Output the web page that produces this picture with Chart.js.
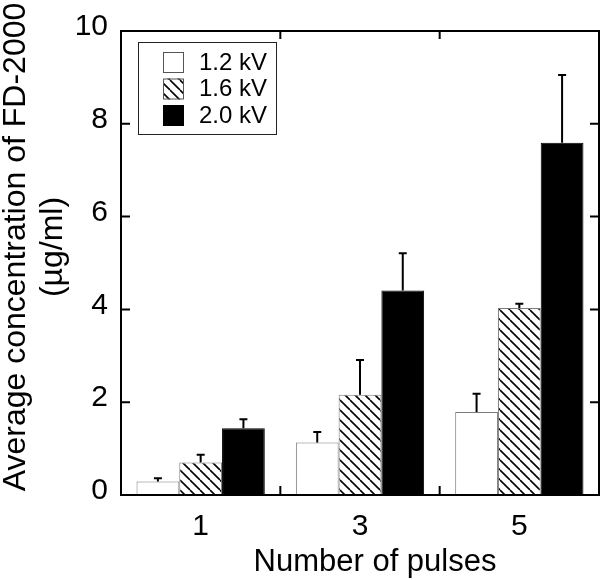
<!DOCTYPE html>
<html>
<head>
<meta charset="utf-8">
<script src="https://cdn.jsdelivr.net/npm/chart.js@4"></script>
<style>
  html, body { margin: 0; padding: 0; background: #fff; }
  #wrap { width: 601px; height: 580px; }
</style>
</head>
<body>
<div id="wrap"><canvas id="chart" width="601" height="580"></canvas></div>
<script>
// Data
const pulses = ['1', '3', '5'];
const voltages = ['1.2 kV', '1.6 kV', '2.0 kV'];
const mean12 = [0.29, 1.13, 1.79];
const mean16 = [0.70, 2.16, 4.03];
const mean20 = [1.44, 4.41, 7.59];
const err12 = [0.07, 0.23, 0.39];
const err16 = [0.17, 0.75, 0.09];
const err20 = [0.19, 0.80, 1.46];
const yTicks = [0, 2, 4, 6, 8, 10];

const FONT = '"Liberation Sans", Arial, sans-serif';

// Diagonal hatch pattern for the 1.6 kV bars
function makeHatch() {
  const s = 10;
  const c = document.createElement('canvas');
  c.width = s; c.height = s;
  const g = c.getContext('2d');
  g.fillStyle = '#fff';
  g.fillRect(0, 0, s, s);
  g.strokeStyle = '#000';
  g.lineWidth = 1.6;
  for (let x = -s; x <= s; x += s) {
    g.beginPath();
    g.moveTo(x, 0);
    g.lineTo(x + s, s);
    g.stroke();
  }
  return g.createPattern(c, 'repeat');
}
const ctx = document.getElementById('chart').getContext('2d');
const hatch = makeHatch();

const fills = ['#ffffff', hatch, '#000000'];
const edges = ['#7a7a7a', '#7a7a7a', '#000000'];
const means = [mean12, mean16, mean20];
const errs = [err12, err16, err20];

// Frame, inward ticks, error bars, legend and axis titles
const decor = {
  id: 'decor',
  afterDatasetsDraw(chart) {
    const c = chart.ctx;
    const y = chart.scales.y;
    c.save();
    c.strokeStyle = '#000';
    c.lineWidth = 2;
    chart.data.datasets.forEach((ds, i) => {
      const meta = chart.getDatasetMeta(i);
      meta.data.forEach((bar, j) => {
        const top = y.getPixelForValue(ds.data[j] + errs[i][j]);
        c.beginPath();
        c.moveTo(bar.x, bar.y);
        c.lineTo(bar.x, top);
        c.moveTo(bar.x - 4, top);
        c.lineTo(bar.x + 4, top);
        c.stroke();
      });
    });
    c.restore();
  },
  afterDraw(chart) {
    const c = chart.ctx;
    const a = chart.chartArea;
    const x = chart.scales.x;
    const y = chart.scales.y;
    c.save();
    c.strokeStyle = '#000';
    c.lineWidth = 2;
    c.strokeRect(a.left, a.top, a.right - a.left, a.bottom - a.top);
    c.beginPath();
    yTicks.forEach(v => {
      const py = y.getPixelForValue(v);
      c.moveTo(a.left, py); c.lineTo(a.left + 9, py);
      c.moveTo(a.right, py); c.lineTo(a.right - 9, py);
    });
    for (let k = 0; k < pulses.length - 1; k++) {
      const px = (x.getPixelForValue(k) + x.getPixelForValue(k + 1)) / 2;
      c.moveTo(px, a.bottom); c.lineTo(px, a.bottom - 9);
      c.moveTo(px, a.top); c.lineTo(px, a.top + 8);
    }
    c.stroke();

    // legend
    const lx = a.left + 17, ly = a.top + 11;
    c.lineWidth = 1;
    c.strokeStyle = '#222';
    c.fillStyle = '#fff';
    c.fillRect(lx, ly, 138, 92);
    c.strokeRect(lx + 0.5, ly + 0.5, 138, 92);
    c.font = '24px ' + FONT;
    c.textBaseline = 'middle';
    c.textAlign = 'left';
    voltages.forEach((lab, i) => {
      const sy = ly + 10 + i * 26.5;
      c.fillStyle = fills[i];
      c.fillRect(lx + 25, sy, 21, 21);
      c.strokeStyle = i === 2 ? '#000' : '#555';
      c.strokeRect(lx + 25.5, sy + 0.5, 20, 20);
      c.fillStyle = '#000';
      c.fillText(lab, lx + 61, sy + 11);
    });

    // axis titles
    c.fillStyle = '#000';
    c.font = '31px ' + FONT;
    c.textAlign = 'center';
    c.textBaseline = 'alphabetic';
    c.fillText('Number of pulses', 375, 571);
    c.save();
    c.translate(0, 247);
    c.rotate(-Math.PI / 2);
    c.font = '32px ' + FONT;
    c.fillText('Average concentration of FD-2000', 0, 25);
    c.fillText('(\u00b5g/ml)', 0, 62);
    c.restore();
    c.restore();
  }
};

new Chart(ctx, {
  type: 'bar',
  data: {
    labels: pulses,
    datasets: voltages.map((v, i) => ({
      label: v,
      data: means[i],
      backgroundColor: fills[i],
      borderColor: edges[i],
      borderWidth: 1,
      categoryPercentage: 0.805,
      barPercentage: 1.0
    }))
  },
  options: {
    responsive: false,
    animation: false,
    devicePixelRatio: 1,
    layout: { padding: { top: 17, right: 2, left: 0, bottom: 0 } },
    plugins: { legend: { display: false }, tooltip: { enabled: false } },
    scales: {
      x: {
        grid: { display: false, drawTicks: false },
        border: { display: false },
        ticks: { color: '#000', font: { family: FONT, size: 30 }, padding: 14 },
        afterFit(s) { s.height = 85; }
      },
      y: {
        min: 0, max: 10,
        grid: { display: false, drawTicks: false },
        border: { display: false },
        ticks: { color: '#000', stepSize: 2, font: { family: FONT, size: 30 }, padding: 13, labelOffset: -4 },
        afterFit(s) { s.width = 121; }
      }
    }
  },
  plugins: [decor]
});
</script>
</body>
</html>
